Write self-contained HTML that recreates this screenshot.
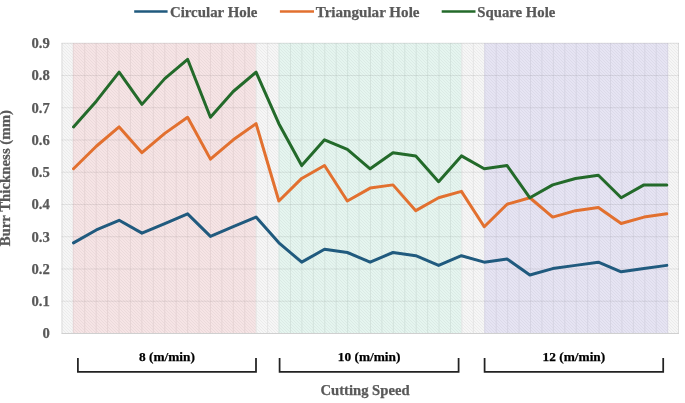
<!DOCTYPE html><html><head><meta charset="utf-8"><style>html,body{margin:0;padding:0;background:#fff;overflow:hidden}svg{display:block}text{font-family:"Liberation Serif","Times New Roman",serif;font-weight:bold;stroke:currentColor;stroke-width:0.25px}</style></head><body>
<svg width="685" height="403" viewBox="0 0 685 403">
<defs><pattern id="h" x="0" y="0" width="3" height="3" patternUnits="userSpaceOnUse"><path d="M0,0h1v1h-1zM1,1h1v1h-1zM2,2h1v1h-1z" fill="#000" fill-opacity="0.045"/></pattern></defs>
<rect width="685" height="403" fill="#fff"/>
<rect x="61.5" y="43.2" width="617.50" height="290.30" fill="#f6f6f6"/>
<rect x="73.30" y="43.2" width="182.88" height="290.30" fill="#f6e4e5"/>
<rect x="256.18" y="43.2" width="22.86" height="290.30" fill="#f6f6f6"/>
<rect x="279.04" y="43.2" width="182.88" height="290.30" fill="#e5f5ef"/>
<rect x="461.92" y="43.2" width="22.86" height="290.30" fill="#f6f6f6"/>
<rect x="484.78" y="43.2" width="182.88" height="290.30" fill="#e6e4f3"/>
<rect x="61.5" y="43.2" width="617.50" height="290.30" fill="url(#h)"/>
<line x1="73.30" y1="43.2" x2="73.30" y2="333.5" stroke="#e6d4d5" stroke-width="1"/>
<line x1="84.73" y1="43.2" x2="84.73" y2="333.5" stroke="#e6d4d5" stroke-width="1"/>
<line x1="96.16" y1="43.2" x2="96.16" y2="333.5" stroke="#e6d4d5" stroke-width="1"/>
<line x1="107.59" y1="43.2" x2="107.59" y2="333.5" stroke="#e6d4d5" stroke-width="1"/>
<line x1="119.02" y1="43.2" x2="119.02" y2="333.5" stroke="#e6d4d5" stroke-width="1"/>
<line x1="130.45" y1="43.2" x2="130.45" y2="333.5" stroke="#e6d4d5" stroke-width="1"/>
<line x1="141.88" y1="43.2" x2="141.88" y2="333.5" stroke="#e6d4d5" stroke-width="1"/>
<line x1="153.31" y1="43.2" x2="153.31" y2="333.5" stroke="#e6d4d5" stroke-width="1"/>
<line x1="164.74" y1="43.2" x2="164.74" y2="333.5" stroke="#e6d4d5" stroke-width="1"/>
<line x1="176.17" y1="43.2" x2="176.17" y2="333.5" stroke="#e6d4d5" stroke-width="1"/>
<line x1="187.60" y1="43.2" x2="187.60" y2="333.5" stroke="#e6d4d5" stroke-width="1"/>
<line x1="199.03" y1="43.2" x2="199.03" y2="333.5" stroke="#e6d4d5" stroke-width="1"/>
<line x1="210.46" y1="43.2" x2="210.46" y2="333.5" stroke="#e6d4d5" stroke-width="1"/>
<line x1="221.89" y1="43.2" x2="221.89" y2="333.5" stroke="#e6d4d5" stroke-width="1"/>
<line x1="233.32" y1="43.2" x2="233.32" y2="333.5" stroke="#e6d4d5" stroke-width="1"/>
<line x1="244.75" y1="43.2" x2="244.75" y2="333.5" stroke="#e6d4d5" stroke-width="1"/>
<line x1="256.18" y1="43.2" x2="256.18" y2="333.5" stroke="#e4e4e4" stroke-width="1"/>
<line x1="267.61" y1="43.2" x2="267.61" y2="333.5" stroke="#e4e4e4" stroke-width="1"/>
<line x1="279.04" y1="43.2" x2="279.04" y2="333.5" stroke="#d3e3dd" stroke-width="1"/>
<line x1="290.47" y1="43.2" x2="290.47" y2="333.5" stroke="#d3e3dd" stroke-width="1"/>
<line x1="301.90" y1="43.2" x2="301.90" y2="333.5" stroke="#d3e3dd" stroke-width="1"/>
<line x1="313.33" y1="43.2" x2="313.33" y2="333.5" stroke="#d3e3dd" stroke-width="1"/>
<line x1="324.76" y1="43.2" x2="324.76" y2="333.5" stroke="#d3e3dd" stroke-width="1"/>
<line x1="336.19" y1="43.2" x2="336.19" y2="333.5" stroke="#d3e3dd" stroke-width="1"/>
<line x1="347.62" y1="43.2" x2="347.62" y2="333.5" stroke="#d3e3dd" stroke-width="1"/>
<line x1="359.05" y1="43.2" x2="359.05" y2="333.5" stroke="#d3e3dd" stroke-width="1"/>
<line x1="370.48" y1="43.2" x2="370.48" y2="333.5" stroke="#d3e3dd" stroke-width="1"/>
<line x1="381.91" y1="43.2" x2="381.91" y2="333.5" stroke="#d3e3dd" stroke-width="1"/>
<line x1="393.34" y1="43.2" x2="393.34" y2="333.5" stroke="#d3e3dd" stroke-width="1"/>
<line x1="404.77" y1="43.2" x2="404.77" y2="333.5" stroke="#d3e3dd" stroke-width="1"/>
<line x1="416.20" y1="43.2" x2="416.20" y2="333.5" stroke="#d3e3dd" stroke-width="1"/>
<line x1="427.63" y1="43.2" x2="427.63" y2="333.5" stroke="#d3e3dd" stroke-width="1"/>
<line x1="439.06" y1="43.2" x2="439.06" y2="333.5" stroke="#d3e3dd" stroke-width="1"/>
<line x1="450.49" y1="43.2" x2="450.49" y2="333.5" stroke="#d3e3dd" stroke-width="1"/>
<line x1="461.92" y1="43.2" x2="461.92" y2="333.5" stroke="#e4e4e4" stroke-width="1"/>
<line x1="473.35" y1="43.2" x2="473.35" y2="333.5" stroke="#e4e4e4" stroke-width="1"/>
<line x1="484.78" y1="43.2" x2="484.78" y2="333.5" stroke="#d6d4e3" stroke-width="1"/>
<line x1="496.21" y1="43.2" x2="496.21" y2="333.5" stroke="#d6d4e3" stroke-width="1"/>
<line x1="507.64" y1="43.2" x2="507.64" y2="333.5" stroke="#d6d4e3" stroke-width="1"/>
<line x1="519.07" y1="43.2" x2="519.07" y2="333.5" stroke="#d6d4e3" stroke-width="1"/>
<line x1="530.50" y1="43.2" x2="530.50" y2="333.5" stroke="#d6d4e3" stroke-width="1"/>
<line x1="541.93" y1="43.2" x2="541.93" y2="333.5" stroke="#d6d4e3" stroke-width="1"/>
<line x1="553.36" y1="43.2" x2="553.36" y2="333.5" stroke="#d6d4e3" stroke-width="1"/>
<line x1="564.79" y1="43.2" x2="564.79" y2="333.5" stroke="#d6d4e3" stroke-width="1"/>
<line x1="576.22" y1="43.2" x2="576.22" y2="333.5" stroke="#d6d4e3" stroke-width="1"/>
<line x1="587.65" y1="43.2" x2="587.65" y2="333.5" stroke="#d6d4e3" stroke-width="1"/>
<line x1="599.08" y1="43.2" x2="599.08" y2="333.5" stroke="#d6d4e3" stroke-width="1"/>
<line x1="610.51" y1="43.2" x2="610.51" y2="333.5" stroke="#d6d4e3" stroke-width="1"/>
<line x1="621.94" y1="43.2" x2="621.94" y2="333.5" stroke="#d6d4e3" stroke-width="1"/>
<line x1="633.37" y1="43.2" x2="633.37" y2="333.5" stroke="#d6d4e3" stroke-width="1"/>
<line x1="644.80" y1="43.2" x2="644.80" y2="333.5" stroke="#d6d4e3" stroke-width="1"/>
<line x1="656.23" y1="43.2" x2="656.23" y2="333.5" stroke="#d6d4e3" stroke-width="1"/>
<line x1="667.66" y1="43.2" x2="667.66" y2="333.5" stroke="#d6d4e3" stroke-width="1"/>
<line x1="62.0" y1="43.2" x2="62.0" y2="333.5" stroke="#dcdcdc" stroke-width="1"/>
<line x1="678.5" y1="43.2" x2="678.5" y2="333.5" stroke="#dcdcdc" stroke-width="1"/>
<line x1="61.5" y1="301.24" x2="679.0" y2="301.24" stroke="#000" stroke-opacity="0.08" stroke-width="1"/>
<line x1="61.5" y1="268.99" x2="679.0" y2="268.99" stroke="#000" stroke-opacity="0.08" stroke-width="1"/>
<line x1="61.5" y1="236.73" x2="679.0" y2="236.73" stroke="#000" stroke-opacity="0.08" stroke-width="1"/>
<line x1="61.5" y1="204.48" x2="679.0" y2="204.48" stroke="#000" stroke-opacity="0.08" stroke-width="1"/>
<line x1="61.5" y1="172.22" x2="679.0" y2="172.22" stroke="#000" stroke-opacity="0.08" stroke-width="1"/>
<line x1="61.5" y1="139.97" x2="679.0" y2="139.97" stroke="#000" stroke-opacity="0.08" stroke-width="1"/>
<line x1="61.5" y1="107.71" x2="679.0" y2="107.71" stroke="#000" stroke-opacity="0.08" stroke-width="1"/>
<line x1="61.5" y1="75.46" x2="679.0" y2="75.46" stroke="#000" stroke-opacity="0.08" stroke-width="1"/>
<line x1="61.5" y1="43.20" x2="679.0" y2="43.20" stroke="#000" stroke-opacity="0.11" stroke-width="1"/>
<line x1="61.5" y1="333.50" x2="679.0" y2="333.50" stroke="#d0d0d0" stroke-width="1"/>
<polyline points="73.50,242.84 96.32,229.96 119.14,220.30 141.96,233.18 164.78,223.52 187.60,213.86 210.42,236.40 233.23,226.74 256.05,217.08 278.87,242.84 301.69,262.16 324.51,249.28 347.33,252.50 370.15,262.16 392.97,252.50 415.79,255.72 438.61,265.38 461.43,255.72 484.25,262.16 507.07,258.94 529.88,275.04 552.70,268.60 575.52,265.38 598.34,262.16 621.16,271.82 643.98,268.60 666.80,265.38" fill="none" stroke="#205a7e" stroke-width="3" stroke-linejoin="round" stroke-linecap="round"/>
<polyline points="73.50,168.78 96.32,146.24 119.14,126.92 141.96,152.68 164.78,133.36 187.60,117.26 210.42,159.12 233.23,139.80 256.05,123.70 278.87,200.98 301.69,178.44 324.51,165.56 347.33,200.98 370.15,188.10 392.97,184.88 415.79,210.64 438.61,197.76 461.43,191.32 484.25,226.74 507.07,204.20 529.88,197.76 552.70,217.08 575.52,210.64 598.34,207.42 621.16,223.52 643.98,217.08 666.80,213.86" fill="none" stroke="#e2702f" stroke-width="3" stroke-linejoin="round" stroke-linecap="round"/>
<polyline points="73.50,126.92 96.32,101.16 119.14,72.18 141.96,104.38 164.78,78.62 187.60,59.30 210.42,117.26 233.23,91.50 256.05,72.18 278.87,123.70 301.69,165.56 324.51,139.80 347.33,149.46 370.15,168.78 392.97,152.68 415.79,155.90 438.61,181.66 461.43,155.90 484.25,168.78 507.07,165.56 529.88,197.76 552.70,184.88 575.52,178.44 598.34,175.22 621.16,197.76 643.98,184.88 666.80,184.88" fill="none" stroke="#236a2a" stroke-width="3" stroke-linejoin="round" stroke-linecap="round"/>
<text x="49.8" y="338.40" font-size="14.67" fill="#595959" color="#595959" text-anchor="end">0</text>
<text x="49.8" y="306.14" font-size="14.67" fill="#595959" color="#595959" text-anchor="end">0.1</text>
<text x="49.8" y="273.89" font-size="14.67" fill="#595959" color="#595959" text-anchor="end">0.2</text>
<text x="49.8" y="241.63" font-size="14.67" fill="#595959" color="#595959" text-anchor="end">0.3</text>
<text x="49.8" y="209.38" font-size="14.67" fill="#595959" color="#595959" text-anchor="end">0.4</text>
<text x="49.8" y="177.12" font-size="14.67" fill="#595959" color="#595959" text-anchor="end">0.5</text>
<text x="49.8" y="144.87" font-size="14.67" fill="#595959" color="#595959" text-anchor="end">0.6</text>
<text x="49.8" y="112.61" font-size="14.67" fill="#595959" color="#595959" text-anchor="end">0.7</text>
<text x="49.8" y="80.36" font-size="14.67" fill="#595959" color="#595959" text-anchor="end">0.8</text>
<text x="49.8" y="48.10" font-size="14.67" fill="#595959" color="#595959" text-anchor="end">0.9</text>
<text transform="translate(10.3,178.2) rotate(-90)" font-size="14.85" fill="#595959" color="#595959" text-anchor="middle">Burr Thickness (mm)</text>
<line x1="134.2" y1="11.5" x2="167.6" y2="11.5" stroke="#205a7e" stroke-width="2.6"/>
<text x="169.89999999999998" y="16.7" font-size="14.9" fill="#595959" color="#595959">Circular Hole</text>
<line x1="279.9" y1="11.5" x2="314.0" y2="11.5" stroke="#e2702f" stroke-width="2.6"/>
<text x="315.7" y="16.7" font-size="15.1" fill="#595959" color="#595959">Triangular Hole</text>
<line x1="441.7" y1="11.5" x2="475.5" y2="11.5" stroke="#236a2a" stroke-width="2.6"/>
<text x="477.3" y="16.7" font-size="14.75" fill="#595959" color="#595959">Square Hole</text>
<polyline points="77.9,358 77.9,371.8 256.0,371.8 256.0,358" fill="none" stroke="#222" stroke-width="1.75"/>
<text x="166.95" y="361" font-size="13.35" fill="#000" color="#000" text-anchor="middle">8 (m/min)</text>
<polyline points="279.6,358 279.6,371.8 458.6,371.8 458.6,358" fill="none" stroke="#222" stroke-width="1.75"/>
<text x="369.10" y="361" font-size="13.35" fill="#000" color="#000" text-anchor="middle">10 (m/min)</text>
<polyline points="484.6,358 484.6,371.8 663.2,371.8 663.2,358" fill="none" stroke="#222" stroke-width="1.75"/>
<text x="573.90" y="361" font-size="13.35" fill="#000" color="#000" text-anchor="middle">12 (m/min)</text>
<text x="365" y="395.4" font-size="14.67" fill="#595959" color="#595959" text-anchor="middle">Cutting Speed</text>
</svg></body></html>
